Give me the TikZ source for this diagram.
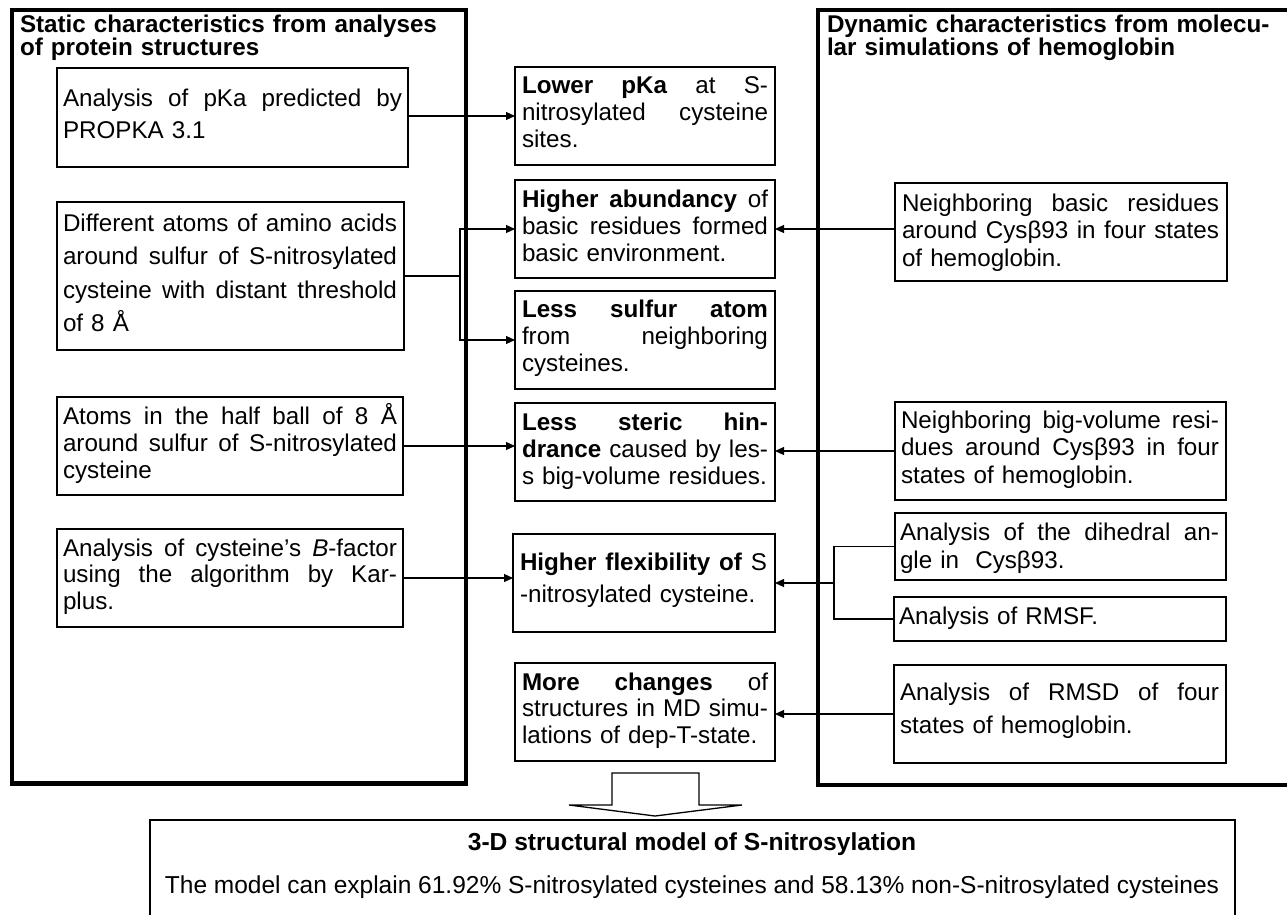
\documentclass[tikz,border=0pt]{standalone}
\usepackage{fontspec}
\setmainfont{Liberation Sans}
\usetikzlibrary{arrows.meta}
\newcommand\tw{100pt}
\newcommand\jl[1]{\leavevmode\hbox to\tw{\spaceskip=\fontdimen2\font plus 1fil\relax #1}}
\newcommand\frm[5]{\node[frame, minimum width={#4-#2}, minimum height={#5-#3}] (#1) at ({(#2+#4)/2},{(#3+#5)/2}) {};}
\tikzset{
  frame/.style={draw, rectangle, line width=1.4pt, inner sep=0pt, outer sep=0pt},
  outerbox/.style={draw, rectangle, line width=4.5pt, inner sep=0pt, outer sep=0pt},
  txt/.style n args={2}{anchor=base west, inner sep=0pt, outer sep=0pt, align=left,
              text width=#2, font=\fontsize{24.2}{#1}\selectfont\renewcommand\tw{#2}},
  ttl/.style={anchor=base west, inner sep=0pt, outer sep=0pt, align=left, text width=470pt,
              font=\bfseries\fontsize{24.2}{20}\selectfont},
  conn/.style={line width=1.1pt},
  arr/.style={conn, -{Triangle[length=9pt,width=8pt]}},
}
\begin{document}
\begin{tikzpicture}[x=1pt,y=-1pt]
\useasboundingbox (0,0) rectangle (1287,914);
\clip (0,0) rectangle (1287,914);
% outer frames
\node[outerbox, minimum width=454, minimum height=773.5] (OL) at (239,396.75) {};
\node[outerbox, minimum width=500, minimum height=775] (OR) at (1068,397.5) {};
\node[ttl] (tOL) at (20,32) {Static characteristics from analyses\\of protein structures};
\node[ttl] (tOR) at (827,32) {Dynamic characteristics from molecu-\\lar simulations of hemoglobin};

% left boxes
\frm{L1}{57}{68}{408}{167}
\node[txt={32}{339pt}] at (63,106) {\jl{Analysis of pKa predicted by}\\PROPKA 3.1};
\frm{L2}{57}{202}{404}{350}
\node[txt={33.5}{334pt}] at (63,231) {\jl{Different atoms of amino acids}\\\jl{around sulfur of S-nitrosylated}\\\jl{cysteine with distant threshold}\\of 8 Å};
\frm{L3}{57}{397}{403}{495}
\node[txt={27}{334pt}] at (63,424) {\jl{Atoms in the half ball of 8 Å}\\\jl{around sulfur of S-nitrosylated}\\cysteine};
\frm{L4}{57}{529}{403}{627}
\node[txt={26.5}{334pt}] at (63,556) {\jl{Analysis of cysteine’s \textit{B}-factor}\\\jl{using the algorithm by Kar-}\\plus.};

% centre boxes
\frm{C1}{515}{67}{775}{165}
\node[txt={27}{246pt}] at (522,93) {\jl{\textbf{Lower pKa} at S-}\\\jl{nitrosylated cysteine}\\sites.};
\frm{C2}{515}{180}{775}{278}
\node[txt={27}{246pt}] at (522,207) {\jl{\textbf{Higher abundancy} of}\\\jl{basic residues formed}\\basic environment.};
\frm{C3}{515}{291}{775}{389}
\node[txt={27}{246pt}] at (522,317) {\jl{\textbf{Less sulfur atom}}\\\jl{from neighboring}\\cysteines.};
\frm{C4}{515}{403}{775}{501}
\node[txt={27}{246pt}] at (522,430) {\jl{\textbf{Less steric hin-}}\\\jl{\textbf{drance} caused by les-}\\s big-volume residues.};
\frm{C5}{513}{534}{775}{632}
\node[txt={32}{247pt}] at (520,570) {\jl{\textbf{Higher flexibility of} S}\\-nitrosylated cysteine.};
\frm{C6}{515}{663}{775}{761}
\node[txt={26.5}{246pt}] at (522,690) {\jl{\textbf{More changes} of}\\\jl{structures in MD simu-}\\lations of dep-T-state.};

% right boxes
\frm{R1}{895}{183}{1227}{281}
\node[txt={27.5}{317pt}] at (902,211) {\jl{Neighboring basic residues}\\\jl{around Cysβ93 in four states}\\of hemoglobin.};
\frm{R2}{895}{402}{1226}{500}
\node[txt={27.5}{318pt}] at (901,428) {\jl{Neighboring big-volume resi-}\\\jl{dues around Cysβ93 in four}\\states of hemoglobin.};
\frm{R3}{895}{513}{1226}{580}
\node[txt={28}{319pt}] at (900,540) {\jl{Analysis of the dihedral an-}\\gle in\ \ Cysβ93.};
\frm{R4}{894}{597}{1226}{641}
\node[txt={27}{320pt}] at (899,624) {Analysis of RMSF.};
\frm{R5}{894}{665}{1226}{763}
\node[txt={33}{319pt}] at (900,700) {\jl{Analysis of RMSD of four}\\states of hemoglobin.};

% bottom box
\frm{B}{150}{820}{1235}{960}
\node[anchor=base, inner sep=0pt, font=\bfseries\fontsize{24.6}{28}\selectfont] (tB1) at (692,850) {3-D structural model of S-nitrosylation};
\node[anchor=base, inner sep=0pt, font=\fontsize{24.5}{28}\selectfont] (tB2) at (692,893) {The model can explain 61.92\% S-nitrosylated cysteines and 58.13\% non-S-nitrosylated cysteines};

% connectors left
\coordinate (jL) at (460,0);
\draw[arr] (C1.west -| L1.east) -- (C1.west);
\draw[arr] (L2.east) -- (L2.east -| jL) |- (C2.west);
\draw[arr] (L2.east -| jL) |- (C3.west);
\draw[arr] (L3.east) -- (L3.east -| C4.west);
\draw[arr] (L4.east) -- (L4.east -| C5.west);
% connectors right
\draw[arr] (C2.east -| R1.west) -- (C2.east);
\draw[arr] (R2.west) -- (R2.west -| C4.east);
\coordinate (jR) at (834,583);
\draw[conn] (R3.west) -| (jR) |- (R4.west);
\draw[arr] (jR) -- (jR -| C5.east);
\draw[arr] (R5.west) -- (R5.west -| C6.east);

% block arrow
\draw[line width=1.3pt, line join=miter] (612,773) -- (699,773) -- (699,805) -- (742,805) -- (655,816) -- (569,805) -- (612,805) -- cycle;
\end{tikzpicture}
\end{document}
